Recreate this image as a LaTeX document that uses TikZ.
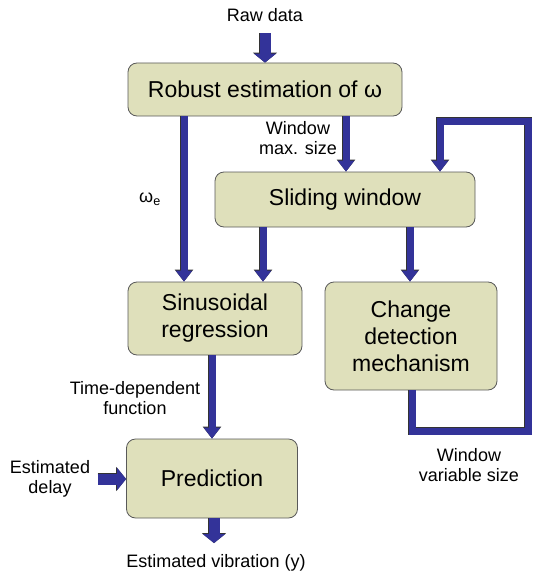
\documentclass[tikz,border=0pt]{standalone}
\usepackage{fontspec}
\setmainfont{Liberation Sans}
\usetikzlibrary{arrows.meta}
\definecolor{boxfill}{RGB}{223,224,187}
\definecolor{arrblue}{RGB}{51,51,153}

\begin{document}
\begin{tikzpicture}[x=1pt, y=-1pt,
      block/.style = {draw=black!65, line width=0.8pt, fill=boxfill, rounded corners=9pt,
            inner sep=0pt, align=center, font=\fontsize{23}{27}\selectfont},
      lbl/.style = {align=center, font=\fontsize{18}{20}\selectfont},
      arr/.style = {arrblue, line width=7pt, -{Triangle[width=16pt,length=11pt]},
            preaction={draw=black!80, line width=8.6pt, -{Triangle[width=17.8pt,length=12pt]}}},
      fatarr/.style = {arrblue, line width=11pt, -{Triangle[width=22pt,length=9pt]},
            preaction={draw=black!80, line width=12.6pt, -{Triangle[width=23.8pt,length=10pt]}}}
      ]
      \useasboundingbox (0,0) rectangle (533,578);
      % boxes
      \node[block, minimum width=274pt, minimum height=53pt] (robust) at (265,89.5) {Robust estimation of ω};
      \node[block, minimum width=260pt, minimum height=55pt] (sliding) at (345,199.5) {Sliding window};
      \node[block, minimum width=174pt, minimum height=73pt] (sinus) at (215,318.5) {Sinusoidal\\regression};
      \node[block, minimum width=172pt, minimum height=108pt] (change) at (411,336) {Change\\detection\\mechanism};
      \node[block, minimum width=171pt, minimum height=79pt] (predict) at (212,478.5) {Prediction};
      % labels
      \node[lbl] (raw) at (265,15) {Raw data};
      \node[lbl] (omega) at (150,199) {ω\textsubscript{e}};
      \node[lbl] (maxsize) at (298,138) {Window\\max. size};
      \node[lbl] (timefn) at (135,398) {Time-dependent\\function};
      \node[lbl] (delay) at (50,479) {Estimated\\delay};
      \node[lbl] (varsize) at (469,465) {Window\\variable size};
      \node[lbl] (vib) at (216,563) {Estimated vibration (y)};
      % arrows
      \draw[fatarr] ([yshift=-8pt]raw.south) -- (robust.north);
      \draw[arr] (robust.south -| 184,0) -- (sinus.north -| 184,0);
      \draw[arr] (robust.south -| 346,0) -- (sliding.north -| 346,0);
      \draw[arr] (sliding.south -| 263,0) -- (sinus.north -| 263,0);
      \draw[arr] (sliding.south -| 410,0) -- (change.north -| 410,0);
      \draw[arr] (sinus.south -| 212,0) -- (predict.north -| 212,0);
      \draw[fatarr] (delay.east) ++(4,0) -- (predict.west |- delay.east);
      \draw[fatarr] (predict.south -| 214,0) -- ([yshift=8pt]vib.north -| 214,0);
      \draw[arr, line join=miter] (change.south -| 412,0) -- (412,431) -- (528,431) -- (528,121)
            -- (440,121) -- (sliding.north -| 440,0);
\end{tikzpicture}
\end{document}
